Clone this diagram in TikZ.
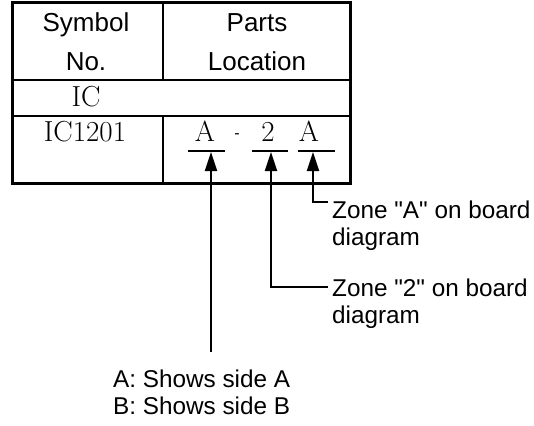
\documentclass[tikz,border=0pt]{standalone}
\usepackage{fontspec}
\newfontfamily\hv{Liberation Sans}
\usetikzlibrary{arrows.meta}
\tikzset{
  outer/.style={line width=3pt},
  inner/.style={line width=1.6pt},
  head/.style={font=\hv\fontsize{26}{39.5}\selectfont, align=center, anchor=base, inner sep=0pt},
  serif/.style={font=\fontsize{29}{32}\selectfont, anchor=base, inner sep=0pt},
  lab/.style={font=\hv\fontsize{24.3}{27}\selectfont, align=left, anchor=base west, inner sep=0pt},
  uline/.style={line width=2pt},
  arr/.style={line width=2pt, -{Triangle[length=19pt, width=12pt]}},
  conn/.style={line width=2pt}
}
\begin{document}
\begin{tikzpicture}[x=1pt, y=-1pt]
\useasboundingbox (0,0) rectangle (534,425);
% table
\draw[outer] (12,3) rectangle (350,183);
\draw[inner] (12,80) -- (350,80);
\draw[inner] (12,116) -- (350,116);
\draw[inner] (163,3) -- (163,80);
\draw[inner] (163,116) -- (163,183);
% texts
\node[head] (sym) at (86,70.7) {Symbol\\No.};
\node[head] (loc) at (257,70.7) {Parts\\Location};
\node[serif] (ic) at (86,106.7) {IC};
\node[serif] (ic1) at (85,141.7) {IC1201};
\node[serif] (zA) at (205,141.7) {A};
\node[font=\hv\fontsize{16}{18}\selectfont, anchor=base, inner sep=0pt] (dash) at (237,138.5) {-};
\node[serif] (z2) at (268,141.7) {2};
\node[serif] (zB) at (309,141.7) {A};
% underlines
\draw[uline] (188,151) -- (225,151);
\draw[uline] (252,151) -- (288,151);
\draw[uline] (298,151) -- (335,151);
% arrow targets
\coordinate (t1) at (211,152);
\coordinate (t2) at (271,152);
\coordinate (t3) at (313,152);
% labels
\node[lab] (lab3) at (332,245) {Zone "A" on board\\diagram};
\node[lab] (lab2) at (332,323.5) {Zone "2" on board\\diagram};
\node[lab] (lab1) at (113,414) {A: Shows side A\\B: Shows side B};
\coordinate (e3) at (328,201.7);
\coordinate (e2) at (328,287);
\coordinate (e1) at (211,352);
\draw[arr] (e3) -| (t3);
\draw[arr] (e2) -| (t2);
\draw[arr] (e1) -- (t1);
\end{tikzpicture}
\end{document}
